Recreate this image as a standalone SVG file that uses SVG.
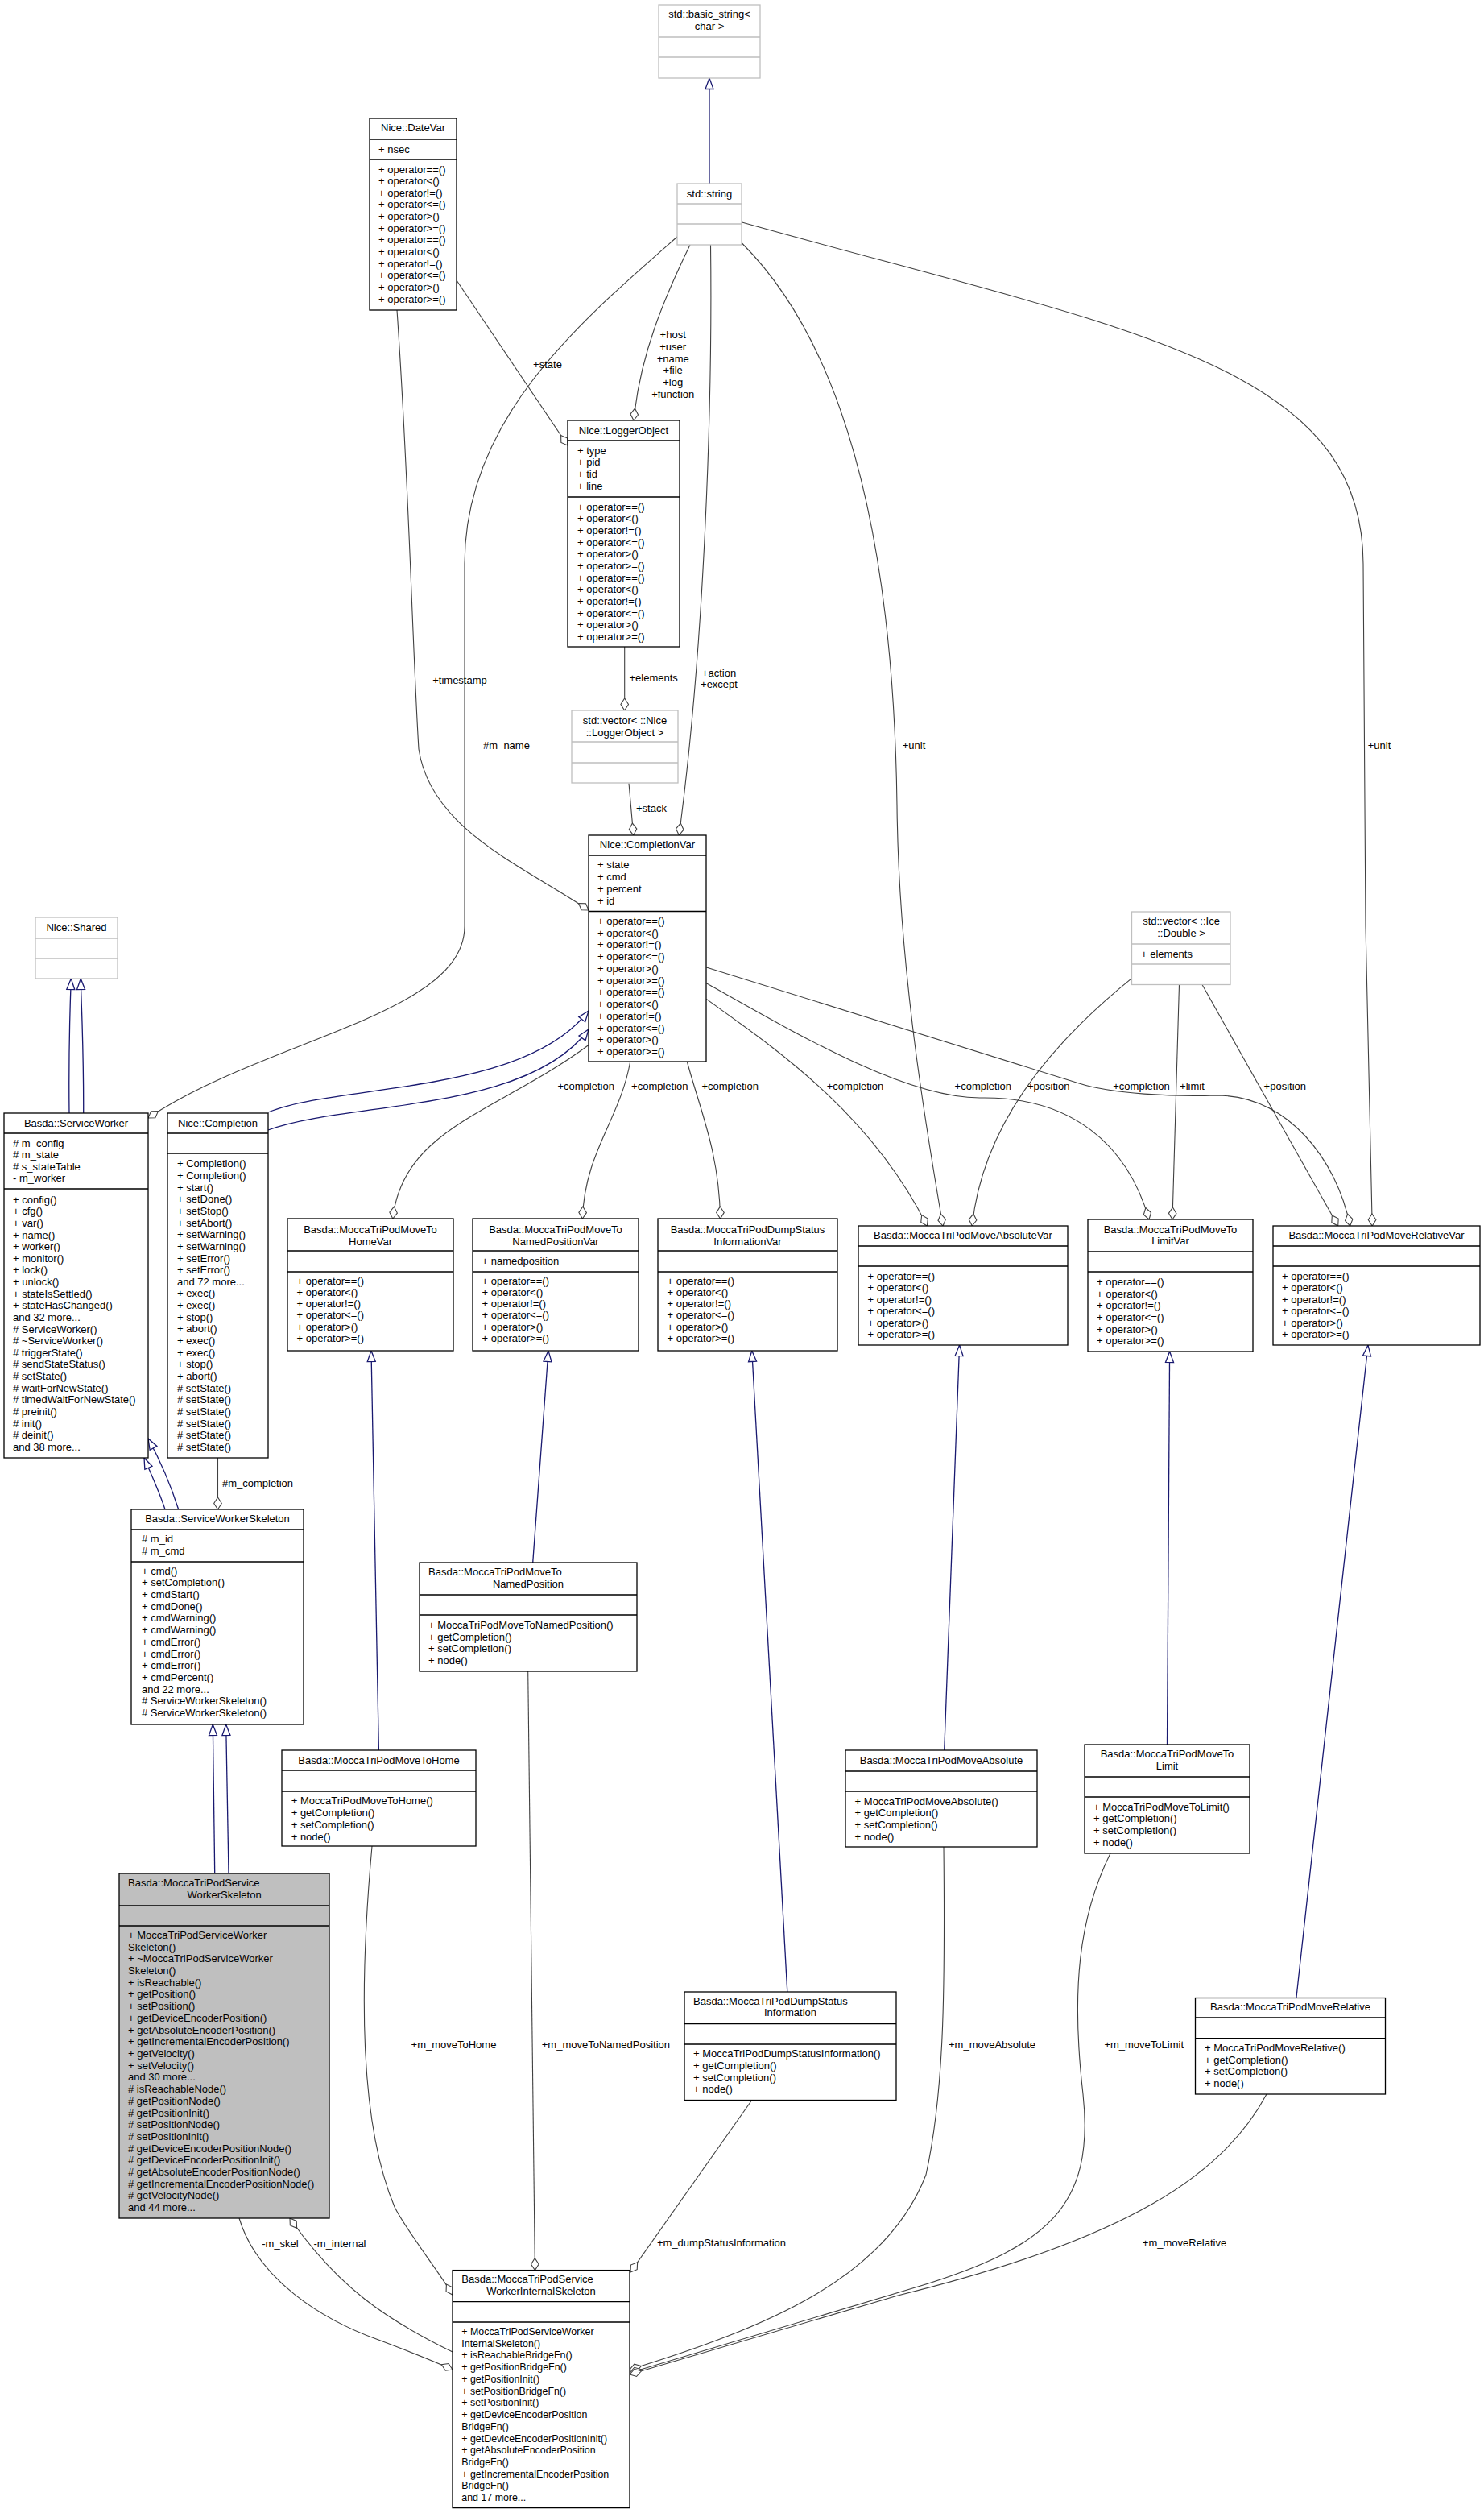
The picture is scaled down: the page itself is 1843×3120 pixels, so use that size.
<svg xmlns="http://www.w3.org/2000/svg" width="1843" height="3120" viewBox="0 0 1843 3120">
<style>
text{font-family:"Liberation Sans",Arial,sans-serif;font-size:13px;fill:#000}
.c{text-anchor:middle}
.box{fill:#fff;stroke:#000;stroke-width:1.3}
.gbox{fill:#fff;stroke:#bfbfbf;stroke-width:1.3}
.sel{fill:#bfbfbf;stroke:#000;stroke-width:1.3}
.sep{fill:none;stroke:#000;stroke-width:1.3}
.gsep{fill:none;stroke:#bfbfbf;stroke-width:1.3}
.e{fill:none;stroke:#404040;stroke-width:1.1;marker-end:url(#dia)}
.i{fill:none;stroke:#191970;stroke-width:1.3;marker-end:url(#tri)}
.sm{font-size:12.4px}
</style>
<defs>
<marker id="dia" viewBox="-16 -6 17 12" refX="0" refY="0" markerWidth="17" markerHeight="12" orient="auto" markerUnits="userSpaceOnUse"><path d="M0,0 L-7.5,-4.8 L-15,0 L-7.5,4.8 Z" fill="#fff" stroke="#404040" stroke-width="1.1"/></marker>
<marker id="tri" viewBox="-15 -7 16 14" refX="0" refY="0" markerWidth="16" markerHeight="14" orient="auto" markerUnits="userSpaceOnUse"><path d="M0,0 L-13.5,-5 L-13.5,5 Z" fill="#fff" stroke="#191970" stroke-width="1.3"/></marker>
</defs>
<rect width="1843" height="3120" fill="#fff"/>

<g id="connectors">
<!-- inheritance -->
<path class="i" d="M881,228 L881,97"/>
<path class="i" d="M86,1382 C85,1300 87,1250 88.3,1215"/>
<path class="i" d="M103.7,1382 C104,1300 101,1250 100.3,1215"/>
<path class="i" d="M333,1381 C420,1345 650,1360 731,1255"/>
<path class="i" d="M333,1403 C430,1367 655,1382 731,1278"/>
<path class="i" d="M221.7,1874 C214,1850 200,1815 184,1786"/>
<path class="i" d="M205,1874 C199,1855 190,1835 179,1810"/>
<path class="i" d="M266.7,2326 L264.3,2141"/>
<path class="i" d="M284,2326 L280.7,2141"/>
<path class="i" d="M470.4,2173 L461,1677"/>
<path class="i" d="M661.7,1940 L681,1677"/>
<path class="i" d="M977.8,2473 L933.8,1677"/>
<path class="i" d="M1172.7,2173 L1191.6,1670"/>
<path class="i" d="M1449.5,2166 L1452.6,1678"/>
<path class="i" d="M1609.9,2480.5 L1699,1670"/>
<!-- associations -->
<path class="e" d="M857,304 C825,370 795,440 787,522"/>
<path class="e" d="M567,348 L705,553"/>
<path class="e" d="M493,385 C508,600 512,800 520,930 C535,1030 650,1075 731,1130"/>
<path class="e" d="M841,294 C720,400 577,520 577,700 L577,1150 C577,1260 330,1290 184,1388"/>
<path class="e" d="M882.5,304 C885,500 875,800 843.3,1037"/>
<path class="e" d="M775.7,803 L775.7,882"/>
<path class="e" d="M781,972.5 L786.7,1037"/>
<path class="e" d="M921.5,302 C1060,440 1110,700 1114,1000 C1116,1200 1150,1400 1171,1522"/>
<path class="e" d="M921.5,276 C1400,410 1692,450 1693,700 L1696,1150 C1700,1350 1703,1450 1704.2,1522"/>
<path class="e" d="M731,1297.5 C620,1380 500,1400 487.8,1513"/>
<path class="e" d="M782.7,1318 C770,1390 726,1430 723.4,1513"/>
<path class="e" d="M853.3,1318 C870,1380 893,1430 894.6,1513"/>
<path class="e" d="M877.3,1240.4 C960,1300 1080,1380 1151.4,1522"/>
<path class="e" d="M877.3,1220.7 C1000,1290 1130,1365 1220,1363 C1330,1362 1400,1420 1427,1514"/>
<path class="e" d="M877.3,1201 L1340,1345 C1380,1358 1460,1362 1510,1360 C1600,1360 1660,1440 1676.7,1522"/>
<path class="e" d="M1405.5,1214.6 C1300,1300 1220,1400 1207.3,1522"/>
<path class="e" d="M1464.5,1222.5 L1456,1514"/>
<path class="e" d="M1493,1222.5 L1661.7,1522"/>
<path class="e" d="M270.5,1810 L270.5,1874"/>
<path class="e" d="M462,2292 C445,2480 448,2640 490,2740 C505,2770 545,2820 562,2849"/>
<path class="e" d="M655.7,2075 L664.4,2818.6"/>
<path class="e" d="M934,2607 L783,2821"/>
<path class="e" d="M1172,2293 C1174,2480 1172,2600 1150,2700 C1100,2830 950,2890 782,2942"/>
<path class="e" d="M1379,2301 C1340,2380 1330,2470 1345,2600 C1360,2740 1300,2790 1140,2839 L782,2946"/>
<path class="e" d="M1573,2600 C1520,2700 1400,2780 1115,2850 L782,2948"/>
<path class="e" d="M297,2754 C320,2830 400,2880 470,2905 C510,2920 540,2932 562,2942"/>
<path class="e" d="M562,2920 C480,2880 420,2840 360,2754"/>
<!-- labels -->
<text class="c" x="835.7" y="420.2">+host</text>
<text class="c" x="835.7" y="434.9">+user</text>
<text class="c" x="835.7" y="449.6">+name</text>
<text class="c" x="835.7" y="464.3">+file</text>
<text class="c" x="835.7" y="479">+log</text>
<text class="c" x="835.7" y="493.7">+function</text>
<text class="c" x="680" y="457">+state</text>
<text class="c" x="571" y="848.5">+timestamp</text>
<text class="c" x="629" y="929.5">#m_name</text>
<text class="c" x="893" y="839.5">+action</text>
<text class="c" x="893" y="853.5">+except</text>
<text class="c" x="811.7" y="846">+elements</text>
<text class="c" x="809" y="1008">+stack</text>
<text class="c" x="1135" y="929.5">+unit</text>
<text class="c" x="1713" y="929.5">+unit</text>
<text class="c" x="727.7" y="1353">+completion</text>
<text class="c" x="819.3" y="1353">+completion</text>
<text class="c" x="906.7" y="1353">+completion</text>
<text class="c" x="1062" y="1353">+completion</text>
<text class="c" x="1220.8" y="1353">+completion</text>
<text class="c" x="1302.2" y="1353">+position</text>
<text class="c" x="1417.5" y="1353">+completion</text>
<text class="c" x="1480.4" y="1353">+limit</text>
<text class="c" x="1595.8" y="1353">+position</text>
<text class="c" x="320" y="1845.5">#m_completion</text>
<text class="c" x="563.5" y="2543">+m_moveToHome</text>
<text class="c" x="752.4" y="2543">+m_moveToNamedPosition</text>
<text class="c" x="1232" y="2543">+m_moveAbsolute</text>
<text class="c" x="1420.7" y="2543">+m_moveToLimit</text>
<text class="c" x="896" y="2789">+m_dumpStatusInformation</text>
<text class="c" x="1471" y="2789">+m_moveRelative</text>
<text class="c" x="348" y="2790">-m_skel</text>
<text class="c" x="422" y="2790">-m_internal</text>
</g>

<g id="std_basic_string">
<rect class="gbox" x="818" y="6" width="126" height="91"/>
<path class="gsep" d="M818,46H944M818,71H944"/>
<text class="c" x="881" y="22.2">std::basic_string&lt;</text>
<text class="c" x="881" y="37.2">char &gt;</text>
</g>

<g id="std_string">
<rect class="gbox" x="841" y="228" width="80" height="76"/>
<path class="gsep" d="M841,253H921M841,278H921"/>
<text class="c" x="881" y="244.5">std::string</text>
</g>

<g id="Nice_DateVar">
<rect class="box" x="459" y="147" width="108" height="238"/>
<path class="sep" d="M459,173H567M459,198H567"/>
<text class="c" x="513" y="163">Nice::DateVar</text>
<text x="470" y="189.5">+ nsec</text>
<text x="470"><tspan x="470" y="214.5">+ operator==()</tspan><tspan x="470" y="229.1">+ operator&lt;()</tspan><tspan x="470" y="243.8">+ operator!=()</tspan><tspan x="470" y="258.4">+ operator&lt;=()</tspan><tspan x="470" y="273.1">+ operator&gt;()</tspan><tspan x="470" y="287.7">+ operator&gt;=()</tspan><tspan x="470" y="302.3">+ operator==()</tspan><tspan x="470" y="317">+ operator&lt;()</tspan><tspan x="470" y="331.6">+ operator!=()</tspan><tspan x="470" y="346.3">+ operator&lt;=()</tspan><tspan x="470" y="360.9">+ operator&gt;()</tspan><tspan x="470" y="375.5">+ operator&gt;=()</tspan></text>
</g>

<g id="Nice_LoggerObject">
<rect class="box" x="705" y="522" width="139" height="281"/>
<path class="sep" d="M705,547H844M705,617H844"/>
<text class="c" x="774.5" y="538.5">Nice::LoggerObject</text>
<text x="717"><tspan x="717" y="563.5">+ type</tspan><tspan x="717" y="578.2">+ pid</tspan><tspan x="717" y="592.8">+ tid</tspan><tspan x="717" y="607.5">+ line</tspan></text>
<text x="717"><tspan x="717" y="633.5">+ operator==()</tspan><tspan x="717" y="648.2">+ operator&lt;()</tspan><tspan x="717" y="662.8">+ operator!=()</tspan><tspan x="717" y="677.5">+ operator&lt;=()</tspan><tspan x="717" y="692.2">+ operator&gt;()</tspan><tspan x="717" y="706.9">+ operator&gt;=()</tspan><tspan x="717" y="721.5">+ operator==()</tspan><tspan x="717" y="736.2">+ operator&lt;()</tspan><tspan x="717" y="750.9">+ operator!=()</tspan><tspan x="717" y="765.5">+ operator&lt;=()</tspan><tspan x="717" y="780.2">+ operator&gt;()</tspan><tspan x="717" y="794.9">+ operator&gt;=()</tspan></text>
</g>

<g id="std_vector_LoggerObject">
<rect class="gbox" x="710" y="882" width="132" height="90"/>
<path class="gsep" d="M710,921H842M710,947H842"/>
<text class="c" x="776" y="898.5">std::vector&lt; ::Nice</text>
<text class="c" x="776" y="913.5">::LoggerObject &gt;</text>
</g>

<g id="Nice_CompletionVar">
<rect class="box" x="731" y="1037" width="146" height="281"/>
<path class="sep" d="M731,1062H877M731,1131.5H877"/>
<text class="c" x="804" y="1053">Nice::CompletionVar</text>
<text x="742"><tspan x="742" y="1078">+ state</tspan><tspan x="742" y="1093">+ cmd</tspan><tspan x="742" y="1107.5">+ percent</tspan><tspan x="742" y="1122.5">+ id</tspan></text>
<text x="742"><tspan x="742" y="1147.7">+ operator==()</tspan><tspan x="742" y="1162.5">+ operator&lt;()</tspan><tspan x="742" y="1177.2">+ operator!=()</tspan><tspan x="742" y="1192">+ operator&lt;=()</tspan><tspan x="742" y="1206.7">+ operator&gt;()</tspan><tspan x="742" y="1221.5">+ operator&gt;=()</tspan><tspan x="742" y="1236.2">+ operator==()</tspan><tspan x="742" y="1251">+ operator&lt;()</tspan><tspan x="742" y="1265.7">+ operator!=()</tspan><tspan x="742" y="1280.5">+ operator&lt;=()</tspan><tspan x="742" y="1295.2">+ operator&gt;()</tspan><tspan x="742" y="1310">+ operator&gt;=()</tspan></text>
</g>

<g id="Nice_Shared">
<rect class="gbox" x="44" y="1139" width="102" height="76"/>
<path class="gsep" d="M44,1165H146M44,1190H146"/>
<text class="c" x="95" y="1156">Nice::Shared</text>
</g>

<g id="Basda_ServiceWorker">
<rect class="box" x="5" y="1382" width="179" height="428"/>
<path class="sep" d="M5,1407H184M5,1476H184"/>
<text class="c" x="94.5" y="1398.5">Basda::ServiceWorker</text>
<text x="16"><tspan x="16" y="1423.5"># m_config</tspan><tspan x="16" y="1438.3"># m_state</tspan><tspan x="16" y="1452.5"># s_stateTable</tspan><tspan x="16" y="1466.8">- m_worker</tspan></text>
<text x="16"><tspan x="16" y="1493.6">+ config()</tspan><tspan x="16" y="1508.2">+ cfg()</tspan><tspan x="16" y="1522.9">+ var()</tspan><tspan x="16" y="1537.5">+ name()</tspan><tspan x="16" y="1552.1">+ worker()</tspan><tspan x="16" y="1566.8">+ monitor()</tspan><tspan x="16" y="1581.4">+ lock()</tspan><tspan x="16" y="1596">+ unlock()</tspan><tspan x="16" y="1610.6">+ stateIsSettled()</tspan><tspan x="16" y="1625.3">+ stateHasChanged()</tspan><tspan x="16" y="1639.9">and 32 more...</tspan><tspan x="16" y="1654.5"># ServiceWorker()</tspan><tspan x="16" y="1669.2"># ~ServiceWorker()</tspan><tspan x="16" y="1683.8"># triggerState()</tspan><tspan x="16" y="1698.4"># sendStateStatus()</tspan><tspan x="16" y="1713.1"># setState()</tspan><tspan x="16" y="1727.7"># waitForNewState()</tspan><tspan x="16" y="1742.3"># timedWaitForNewState()</tspan><tspan x="16" y="1757"># preinit()</tspan><tspan x="16" y="1771.6"># init()</tspan><tspan x="16" y="1786.2"># deinit()</tspan><tspan x="16" y="1800.8">and 38 more...</tspan></text>
</g>

<g id="Nice_Completion">
<rect class="box" x="208" y="1382" width="125" height="428"/>
<path class="sep" d="M208,1407H333M208,1432H333"/>
<text class="c" x="270.5" y="1398.5">Nice::Completion</text>
<text x="220"><tspan x="220" y="1449.4">+ Completion()</tspan><tspan x="220" y="1464">+ Completion()</tspan><tspan x="220" y="1478.7">+ start()</tspan><tspan x="220" y="1493.3">+ setDone()</tspan><tspan x="220" y="1508">+ setStop()</tspan><tspan x="220" y="1522.6">+ setAbort()</tspan><tspan x="220" y="1537.2">+ setWarning()</tspan><tspan x="220" y="1551.9">+ setWarning()</tspan><tspan x="220" y="1566.5">+ setError()</tspan><tspan x="220" y="1581.2">+ setError()</tspan><tspan x="220" y="1595.8">and 72 more...</tspan><tspan x="220" y="1610.4">+ exec()</tspan><tspan x="220" y="1625.1">+ exec()</tspan><tspan x="220" y="1639.7">+ stop()</tspan><tspan x="220" y="1654.4">+ abort()</tspan><tspan x="220" y="1669">+ exec()</tspan><tspan x="220" y="1683.6">+ exec()</tspan><tspan x="220" y="1698.3">+ stop()</tspan><tspan x="220" y="1712.9">+ abort()</tspan><tspan x="220" y="1727.6"># setState()</tspan><tspan x="220" y="1742.2"># setState()</tspan><tspan x="220" y="1756.8"># setState()</tspan><tspan x="220" y="1771.5"># setState()</tspan><tspan x="220" y="1786.1"># setState()</tspan><tspan x="220" y="1800.8"># setState()</tspan></text>
</g>

<g id="Basda_ServiceWorkerSkeleton">
<rect class="box" x="163" y="1874" width="214" height="267"/>
<path class="sep" d="M163,1899H377M163,1939H377"/>
<text class="c" x="270" y="1890">Basda::ServiceWorkerSkeleton</text>
<text x="176"><tspan x="176" y="1915.2"># m_id</tspan><tspan x="176" y="1930.2"># m_cmd</tspan></text>
<text x="176"><tspan x="176" y="1954.5">+ cmd()</tspan><tspan x="176" y="1969.2">+ setCompletion()</tspan><tspan x="176" y="1984">+ cmdStart()</tspan><tspan x="176" y="1998.7">+ cmdDone()</tspan><tspan x="176" y="2013.4">+ cmdWarning()</tspan><tspan x="176" y="2028.1">+ cmdWarning()</tspan><tspan x="176" y="2042.8">+ cmdError()</tspan><tspan x="176" y="2057.5">+ cmdError()</tspan><tspan x="176" y="2072.3">+ cmdError()</tspan><tspan x="176" y="2087">+ cmdPercent()</tspan><tspan x="176" y="2101.7">and 22 more...</tspan><tspan x="176" y="2116.4"># ServiceWorkerSkeleton()</tspan><tspan x="176" y="2131.1"># ServiceWorkerSkeleton()</tspan></text>
</g>

<g id="Basda_MoccaTriPodServiceWorkerSkeleton">
<rect class="sel" x="148" y="2326" width="261" height="428"/>
<path class="sep" d="M148,2366H409M148,2391H409"/>
<text x="159" y="2342">Basda::MoccaTriPodService</text>
<text class="c" x="278.5" y="2357">WorkerSkeleton</text>
<text x="159"><tspan x="159" y="2406.8">+ MoccaTriPodServiceWorker</tspan><tspan x="159" y="2421.5">Skeleton()</tspan><tspan x="159" y="2436.2">+ ~MoccaTriPodServiceWorker</tspan><tspan x="159" y="2450.9">Skeleton()</tspan><tspan x="159" y="2465.6">+ isReachable()</tspan><tspan x="159" y="2480.4">+ getPosition()</tspan><tspan x="159" y="2495.1">+ setPosition()</tspan><tspan x="159" y="2509.8">+ getDeviceEncoderPosition()</tspan><tspan x="159" y="2524.5">+ getAbsoluteEncoderPosition()</tspan><tspan x="159" y="2539.2">+ getIncrementalEncoderPosition()</tspan><tspan x="159" y="2553.9">+ getVelocity()</tspan><tspan x="159" y="2568.6">+ setVelocity()</tspan><tspan x="159" y="2583.3">and 30 more...</tspan><tspan x="159" y="2598"># isReachableNode()</tspan><tspan x="159" y="2612.7"># getPositionNode()</tspan><tspan x="159" y="2627.5"># getPositionInit()</tspan><tspan x="159" y="2642.2"># setPositionNode()</tspan><tspan x="159" y="2656.9"># setPositionInit()</tspan><tspan x="159" y="2671.6"># getDeviceEncoderPositionNode()</tspan><tspan x="159" y="2686.3"># getDeviceEncoderPositionInit()</tspan><tspan x="159" y="2701"># getAbsoluteEncoderPositionNode()</tspan><tspan x="159" y="2715.7"># getIncrementalEncoderPositionNode()</tspan><tspan x="159" y="2730.4"># getVelocityNode()</tspan><tspan x="159" y="2745.1">and 44 more...</tspan></text>
</g>

<g id="Basda_MoccaTriPodMoveToHomeVar">
<rect class="box" x="357" y="1513" width="206" height="164"/>
<path class="sep" d="M357,1553H563M357,1579H563"/>
<text class="c" x="460" y="1531">Basda::MoccaTriPodMoveTo</text>
<text class="c" x="460" y="1546">HomeVar</text>
<text x="368.5"><tspan x="368.5" y="1594.5">+ operator==()</tspan><tspan x="368.5" y="1608.8">+ operator&lt;()</tspan><tspan x="368.5" y="1623.1">+ operator!=()</tspan><tspan x="368.5" y="1637.4">+ operator&lt;=()</tspan><tspan x="368.5" y="1651.7">+ operator&gt;()</tspan><tspan x="368.5" y="1666">+ operator&gt;=()</tspan></text>
</g>

<g id="Basda_MoccaTriPodMoveToNamedPositionVar">
<rect class="box" x="587" y="1513" width="206" height="164"/>
<path class="sep" d="M587,1553H793M587,1579H793"/>
<text class="c" x="690" y="1531">Basda::MoccaTriPodMoveTo</text>
<text class="c" x="690" y="1546">NamedPositionVar</text>
<text x="598.5" y="1570">+ namedposition</text>
<text x="598.5"><tspan x="598.5" y="1594.5">+ operator==()</tspan><tspan x="598.5" y="1608.8">+ operator&lt;()</tspan><tspan x="598.5" y="1623.1">+ operator!=()</tspan><tspan x="598.5" y="1637.4">+ operator&lt;=()</tspan><tspan x="598.5" y="1651.7">+ operator&gt;()</tspan><tspan x="598.5" y="1666">+ operator&gt;=()</tspan></text>
</g>

<g id="Basda_MoccaTriPodDumpStatusInformationVar">
<rect class="box" x="817" y="1513" width="223" height="164"/>
<path class="sep" d="M817,1553H1040M817,1579H1040"/>
<text class="c" x="928.5" y="1531">Basda::MoccaTriPodDumpStatus</text>
<text class="c" x="928.5" y="1546">InformationVar</text>
<text x="828.5"><tspan x="828.5" y="1594.5">+ operator==()</tspan><tspan x="828.5" y="1608.8">+ operator&lt;()</tspan><tspan x="828.5" y="1623.1">+ operator!=()</tspan><tspan x="828.5" y="1637.4">+ operator&lt;=()</tspan><tspan x="828.5" y="1651.7">+ operator&gt;()</tspan><tspan x="828.5" y="1666">+ operator&gt;=()</tspan></text>
</g>

<g id="Basda_MoccaTriPodMoveAbsoluteVar">
<rect class="box" x="1066" y="1522" width="260" height="148"/>
<path class="sep" d="M1066,1547H1326M1066,1572H1326"/>
<text class="c" x="1196" y="1538">Basda::MoccaTriPodMoveAbsoluteVar</text>
<text x="1077.5"><tspan x="1077.5" y="1588.8">+ operator==()</tspan><tspan x="1077.5" y="1603.3">+ operator&lt;()</tspan><tspan x="1077.5" y="1617.8">+ operator!=()</tspan><tspan x="1077.5" y="1632.3">+ operator&lt;=()</tspan><tspan x="1077.5" y="1646.8">+ operator&gt;()</tspan><tspan x="1077.5" y="1661.3">+ operator&gt;=()</tspan></text>
</g>

<g id="Basda_MoccaTriPodMoveToLimitVar">
<rect class="box" x="1351" y="1514" width="205" height="164"/>
<path class="sep" d="M1351,1554H1556M1351,1579H1556"/>
<text class="c" x="1453.5" y="1530.5">Basda::MoccaTriPodMoveTo</text>
<text class="c" x="1453.5" y="1545">LimitVar</text>
<text x="1362"><tspan x="1362" y="1596">+ operator==()</tspan><tspan x="1362" y="1610.6">+ operator&lt;()</tspan><tspan x="1362" y="1625.3">+ operator!=()</tspan><tspan x="1362" y="1639.9">+ operator&lt;=()</tspan><tspan x="1362" y="1654.6">+ operator&gt;()</tspan><tspan x="1362" y="1669.2">+ operator&gt;=()</tspan></text>
</g>

<g id="Basda_MoccaTriPodMoveRelativeVar">
<rect class="box" x="1581" y="1522" width="257" height="148"/>
<path class="sep" d="M1581,1547H1838M1581,1572H1838"/>
<text class="c" x="1709.5" y="1538">Basda::MoccaTriPodMoveRelativeVar</text>
<text x="1592"><tspan x="1592" y="1588.8">+ operator==()</tspan><tspan x="1592" y="1603.3">+ operator&lt;()</tspan><tspan x="1592" y="1617.8">+ operator!=()</tspan><tspan x="1592" y="1632.3">+ operator&lt;=()</tspan><tspan x="1592" y="1646.8">+ operator&gt;()</tspan><tspan x="1592" y="1661.3">+ operator&gt;=()</tspan></text>
</g>

<g id="std_vector_Ice_Double">
<rect class="gbox" x="1405.5" y="1132" width="122.5" height="90.5"/>
<path class="gsep" d="M1405.5,1172H1528M1405.5,1197H1528"/>
<text class="c" x="1467" y="1148.4">std::vector&lt; ::Ice</text>
<text class="c" x="1467" y="1163">::Double &gt;</text>
<text x="1417" y="1188.8">+ elements</text>
</g>

<g id="Basda_MoccaTriPodMoveToHome">
<rect class="box" x="350" y="2173" width="241" height="119"/>
<path class="sep" d="M350,2198H591M350,2224H591"/>
<text class="c" x="470.5" y="2189.5">Basda::MoccaTriPodMoveToHome</text>
<text x="361.7"><tspan x="361.7" y="2240.2">+ MoccaTriPodMoveToHome()</tspan><tspan x="361.7" y="2255">+ getCompletion()</tspan><tspan x="361.7" y="2269.8">+ setCompletion()</tspan><tspan x="361.7" y="2284.6">+ node()</tspan></text>
</g>

<g id="Basda_MoccaTriPodMoveToNamedPosition">
<rect class="box" x="521" y="1940" width="270" height="135"/>
<path class="sep" d="M521,1980H791M521,2005H791"/>
<text x="532" y="1956.2">Basda::MoccaTriPodMoveTo</text>
<text class="c" x="656" y="1971.2">NamedPosition</text>
<text x="532"><tspan x="532" y="2021.8">+ MoccaTriPodMoveToNamedPosition()</tspan><tspan x="532" y="2036.5">+ getCompletion()</tspan><tspan x="532" y="2051.2">+ setCompletion()</tspan><tspan x="532" y="2065.9">+ node()</tspan></text>
</g>

<g id="Basda_MoccaTriPodDumpStatusInformation">
<rect class="box" x="850" y="2473" width="263" height="134.5"/>
<path class="sep" d="M850,2512.6H1113M850,2538H1113"/>
<text x="861" y="2489">Basda::MoccaTriPodDumpStatus</text>
<text class="c" x="981.5" y="2503.2">Information</text>
<text x="861"><tspan x="861" y="2554.1">+ MoccaTriPodDumpStatusInformation()</tspan><tspan x="861" y="2568.9">+ getCompletion()</tspan><tspan x="861" y="2583.6">+ setCompletion()</tspan><tspan x="861" y="2598.3">+ node()</tspan></text>
</g>

<g id="Basda_MoccaTriPodMoveAbsolute">
<rect class="box" x="1050" y="2173" width="238" height="120"/>
<path class="sep" d="M1050,2199H1288M1050,2224H1288"/>
<text class="c" x="1169" y="2189.5">Basda::MoccaTriPodMoveAbsolute</text>
<text x="1061.6"><tspan x="1061.6" y="2240.5">+ MoccaTriPodMoveAbsolute()</tspan><tspan x="1061.6" y="2255.2">+ getCompletion()</tspan><tspan x="1061.6" y="2269.9">+ setCompletion()</tspan><tspan x="1061.6" y="2284.6">+ node()</tspan></text>
</g>

<g id="Basda_MoccaTriPodMoveToLimit">
<rect class="box" x="1347" y="2166" width="205" height="135"/>
<path class="sep" d="M1347,2206H1552M1347,2231H1552"/>
<text class="c" x="1449.5" y="2182.2">Basda::MoccaTriPodMoveTo</text>
<text class="c" x="1449.5" y="2196.8">Limit</text>
<text x="1358"><tspan x="1358" y="2247.5">+ MoccaTriPodMoveToLimit()</tspan><tspan x="1358" y="2262.3">+ getCompletion()</tspan><tspan x="1358" y="2277.1">+ setCompletion()</tspan><tspan x="1358" y="2291.9">+ node()</tspan></text>
</g>

<g id="Basda_MoccaTriPodMoveRelative">
<rect class="box" x="1484.5" y="2480.5" width="236" height="119.5"/>
<path class="sep" d="M1484.5,2505H1720.5M1484.5,2530.7H1720.5"/>
<text class="c" x="1602.5" y="2496.2">Basda::MoccaTriPodMoveRelative</text>
<text x="1496"><tspan x="1496" y="2547.2">+ MoccaTriPodMoveRelative()</tspan><tspan x="1496" y="2561.8">+ getCompletion()</tspan><tspan x="1496" y="2576.4">+ setCompletion()</tspan><tspan x="1496" y="2591">+ node()</tspan></text>
</g>

<g id="Basda_MoccaTriPodServiceWorkerInternalSkeleton">
<rect class="box" x="562" y="2818.6" width="220" height="295"/>
<path class="sep" d="M562,2857.7H782M562,2883H782"/>
<text x="573.3" y="2834">Basda::MoccaTriPodService</text>
<text class="c" x="672" y="2848.8">WorkerInternalSkeleton</text>
<text class="sm" x="573.3"><tspan x="573.3" y="2898.8">+ MoccaTriPodServiceWorker</tspan><tspan x="573.3" y="2913.5">InternalSkeleton()</tspan><tspan x="573.3" y="2928.3">+ isReachableBridgeFn()</tspan><tspan x="573.3" y="2943">+ getPositionBridgeFn()</tspan><tspan x="573.3" y="2957.8">+ getPositionInit()</tspan><tspan x="573.3" y="2972.5">+ setPositionBridgeFn()</tspan><tspan x="573.3" y="2987.2">+ setPositionInit()</tspan><tspan x="573.3" y="3002">+ getDeviceEncoderPosition</tspan><tspan x="573.3" y="3016.7">BridgeFn()</tspan><tspan x="573.3" y="3031.5">+ getDeviceEncoderPositionInit()</tspan><tspan x="573.3" y="3046.2">+ getAbsoluteEncoderPosition</tspan><tspan x="573.3" y="3060.9">BridgeFn()</tspan><tspan x="573.3" y="3075.7">+ getIncrementalEncoderPosition</tspan><tspan x="573.3" y="3090.4">BridgeFn()</tspan><tspan x="573.3" y="3105.2">and 17 more...</tspan></text>
</g>
</svg>
